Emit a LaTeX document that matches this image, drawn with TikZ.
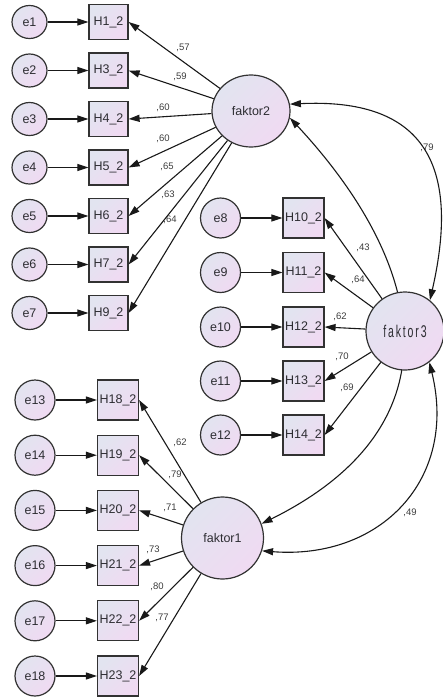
\documentclass[tikz,border=0pt]{standalone}
\usepackage{fontspec}
\setmainfont{Liberation Sans}
\usepackage{graphicx}
\usetikzlibrary{arrows.meta,shapes.geometric}
\definecolor{lavA}{RGB}{226,228,240}
\definecolor{lavB}{RGB}{240,218,242}
\definecolor{ln}{RGB}{25,25,25}
\definecolor{bd}{RGB}{50,50,50}
\definecolor{tx}{RGB}{45,45,50}
\definecolor{lb}{RGB}{60,60,60}
\newcommand{\faktorthree}{\scalebox{0.62}[1]{\fontsize{17}{17}\selectfont f\kern3pt a\kern3pt k\kern3pt t\kern3pt o\kern3pt r\kern3pt 3}}
\begin{document}
\begin{tikzpicture}[x=1pt,y=-1pt,
 lat/.style={ellipse, draw=bd, line width=1.2pt, top color=lavA, bottom color=lavB, shading angle=45, inner sep=0pt, text=tx, font=\fontsize{12.5}{12.5}\selectfont},
 errs/.style={lat, minimum width=35pt, minimum height=33pt},
 errm/.style={lat, minimum width=40pt, minimum height=40pt},
 obs/.style={rectangle, draw=bd, line width=1.2pt, top color=lavA, bottom color=lavB, shading angle=45, inner sep=0pt, text=tx, font=\fontsize{12.5}{12.5}\selectfont},
 obss/.style={obs, minimum width=39pt, minimum height=35pt},
 obsm/.style={obs, minimum width=41pt, minimum height=40pt},
 arr/.style={draw=ln, line width=1.1pt, -{Triangle[length=11pt,width=7pt]}},
 darr/.style={draw=ln, line width=1.1pt, {Triangle[length=11pt,width=7pt]}-{Triangle[length=11pt,width=7pt]}},
 wt/.style={font=\fontsize{9.5}{9.5}\selectfont, text=lb, inner sep=0pt}
]
\useasboundingbox (0,0) rectangle (443,699);
% top block
\foreach \i/\h/\y in {1/1/22,2/3/70.5,3/4/119,4/5/167.5,5/6/216,6/7/264.5,7/9/313}{
  \node[errs] (e\i) at (29.5,\y) {e\i};
  \node[obss] (h\h) at (108.5,\y) {H\h\_2};
}
% middle block
\foreach \i/\h/\y in {8/10/218,9/11/272.5,10/12/327,11/13/381,12/14/435}{
  \node[errm] (e\i) at (220.5,\y) {e\i};
  \node[obsm] (h\h) at (303.5,\y) {H\h\_2};
}
% bottom block
\foreach \i/\h/\y in {13/18/400,14/19/455.2,15/20/510.4,16/21/565.6,17/22/620.8,18/23/676}{
  \node[errm] (e\i) at (35,\y) {e\i};
  \node[obsm] (h\h) at (118,\y) {H\h\_2};
}
\node[lat, minimum width=78pt, minimum height=72pt] (f2) at (251,111) {faktor2};
\node[lat, minimum size=82pt] (f1) at (222.5,538) {faktor1};
% correlation faktor2 - faktor1 (passes behind faktor3)
\draw[darr] (f2.-10) .. controls (425,263) and (463,424) .. (f1.20);
\node[lat, minimum size=78pt] (f3) at (405,331) {\faktorthree};
% error arrows
\foreach \i/\h in {1/1,2/3,3/4,4/5,5/6,6/7,7/9,8/10,9/11,10/12,11/13,12/14,13/18,14/19,15/20,16/21,17/22,18/23}{
  \draw[arr] (e\i) -- (h\h);
}
% loadings
\foreach \h in {1,3,4,5,6,7,9}{ \draw[arr] (f2) -- (h\h.east); }
\foreach \h in {10,11,12,13,14}{ \draw[arr] (f3) -- (h\h.east); }
\foreach \h in {18,19,20,21,22,23}{ \draw[arr] (f1) -- (h\h.east); }
% correlations
\draw[darr] (f2.10) .. controls (420,98) and (462,160) .. (f3.51);
\draw[darr] (f3.-52) .. controls (458,480) and (380,560) .. (f1.-18);
% weights
\node[wt] (w1) at (183,48) {,57};
\node[wt] (w2) at (180,77) {,59};
\node[wt] (w3) at (163,108) {,60};
\node[wt] (w4) at (163,139) {,60};
\node[wt] (w5) at (167,167) {,65};
\node[wt] (w6) at (168,195) {,63};
\node[wt] (w7) at (170,220) {,64};
\node[wt] (w8) at (363,248) {,43};
\node[wt] (w9) at (358,280) {,64};
\node[wt] (w10) at (340,317) {,62};
\node[wt] (w11) at (342,357) {,70};
\node[wt] (w12) at (347,388) {,69};
\node[wt] (w13) at (180,443) {,62};
\node[wt] (w14) at (175,475) {,79};
\node[wt] (w15) at (170,508) {,71};
\node[wt] (w16) at (153,550) {,73};
\node[wt] (w17) at (157,587) {,80};
\node[wt] (w18) at (162,618) {,77};
\node[wt] (w19) at (427,148) {,79};
\node[wt] (w20) at (410,513) {,49};
\end{tikzpicture}
\end{document}
